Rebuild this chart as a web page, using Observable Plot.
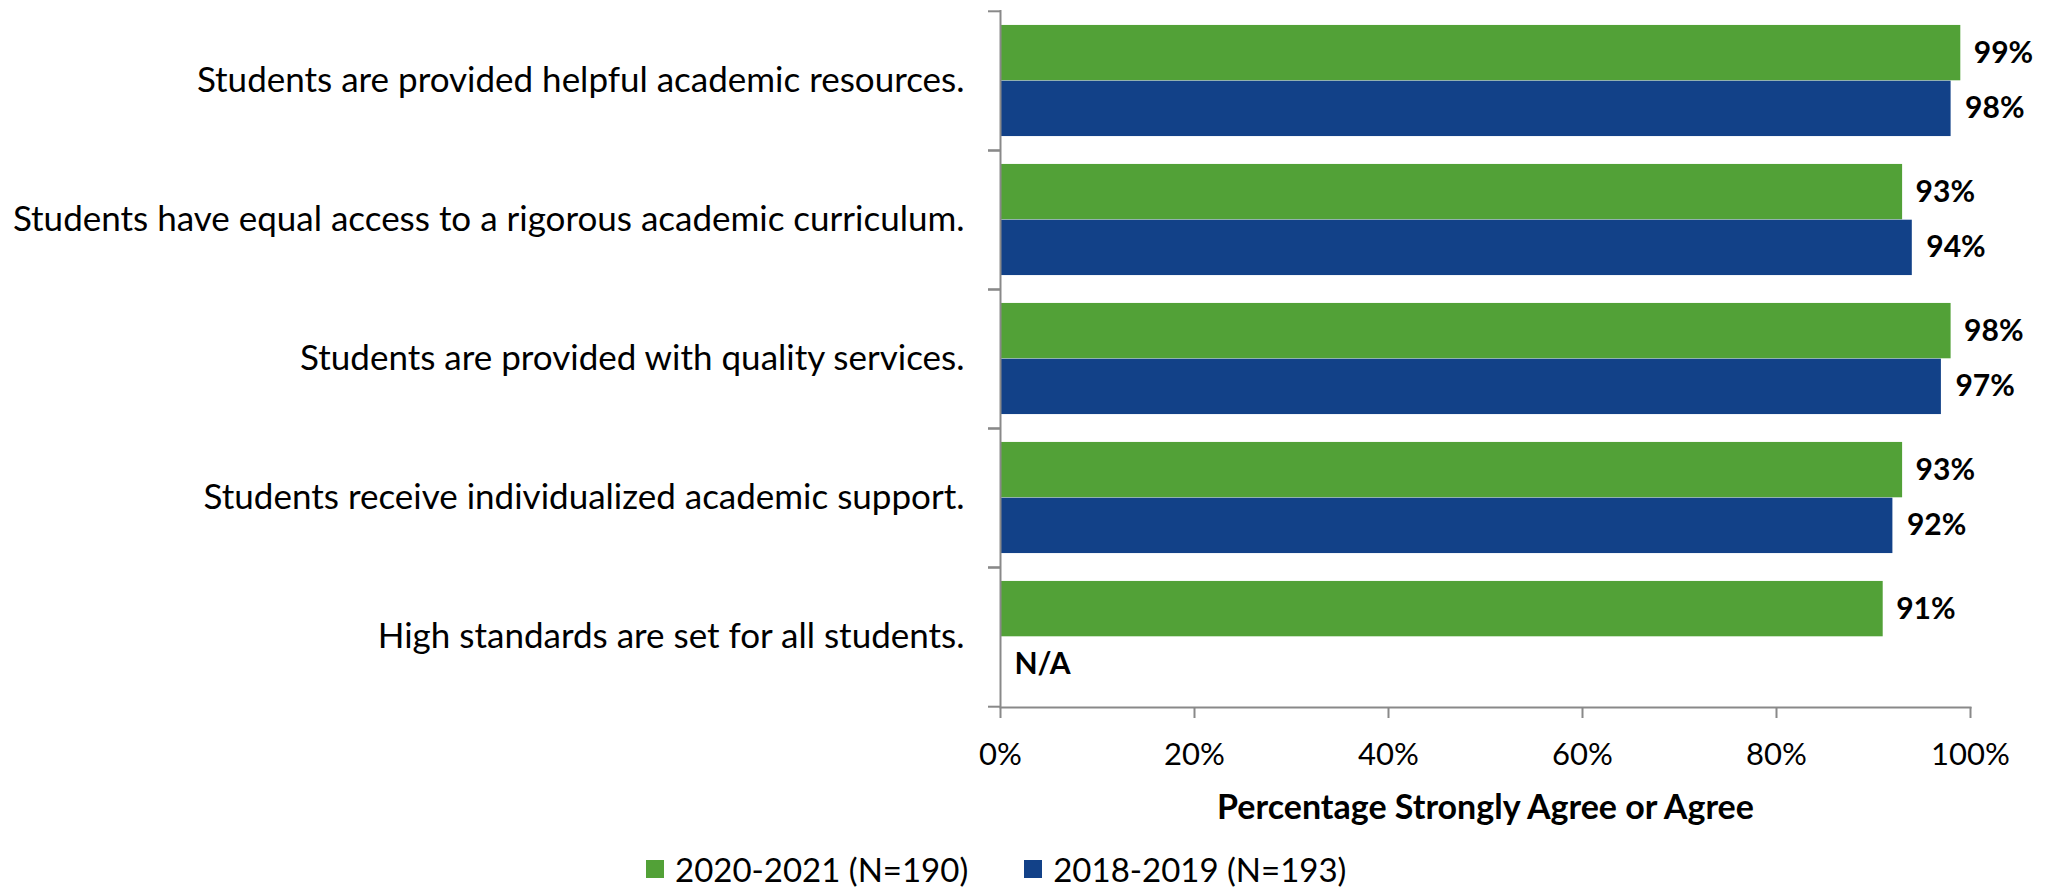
<!DOCTYPE html>
<html>
<head>
<meta charset="utf-8">
<script src="https://cdn.jsdelivr.net/npm/d3@7"></script>
<script src="https://cdn.jsdelivr.net/npm/@observablehq/plot@0.6"></script>
<style>
  html, body { margin: 0; padding: 0; background: #fff; }
  body { width: 2054px; height: 889px; overflow: hidden; font-family: Lato, sans-serif; }
  #legend { display: flex; align-items: center; margin-left: 646px; margin-top: 4px; height: 49px; font-size: 33px; color: #000; }
  #legend .item { display: flex; align-items: center; margin-right: 56px; }
  #legend .sw { width: 18px; height: 18px; margin-right: 11px; }
</style>
</head>
<body>
<div id="chart"></div>
<div id="legend"></div>
<script>
const categories = [
  "Students are provided helpful academic resources.",
  "Students have equal access to a rigorous academic curriculum.",
  "Students are provided with quality services.",
  "Students receive individualized academic support.",
  "High standards are set for all students."
];
const seriesNames = ["2020-2021 (N=190)", "2018-2019 (N=193)"];
const values2021 = [99, 93, 98, 93, 91];
const values2019 = [98, 94, 97, 92, null];
const xTicks = [0, 20, 40, 60, 80, 100];
const xTitle = "Percentage Strongly Agree or Agree";
const colors = ["#52A137", "#124188"];

const W = 2054, H = 840, mTop = 10, mBottom = 133, mLeft = 1000, mRight = 84;
const bw = (H - mTop - mBottom) / categories.length;
const outerGap = bw * 0.1;
const half = bw / 2;
const labelShift = (half - outerGap) / 2;

const rows2021 = categories.map((c, i) => ({category: c, value: values2021[i]}));
const rows2019 = categories.map((c, i) => ({category: c, value: values2019[i]}));
const fmt = d => d.value == null ? "N/A" : d.value + "%";
const axisColor = "#898989";

const plot = Plot.plot({
  width: W, height: H,
  marginTop: mTop, marginBottom: mBottom, marginLeft: mLeft, marginRight: mRight,
  style: {fontFamily: "Lato, sans-serif", color: "#000", background: "#fff"},
  x: {domain: [0, 100], axis: null},
  y: {domain: categories, padding: 0, axis: null},
  marks: [
    Plot.barX(rows2021.filter(d => d.value != null), {x: "value", y: "category", fill: colors[0], insetTop: outerGap, insetBottom: half}),
    Plot.barX(rows2019.filter(d => d.value != null), {x: "value", y: "category", fill: colors[1], insetTop: half, insetBottom: outerGap}),
    Plot.text(rows2021, {x: d => d.value ?? 0, y: "category", text: fmt, dx: 13, dy: -labelShift, textAnchor: "start", fontSize: 30, fontWeight: "bold", fill: "#000"}),
    Plot.text(rows2019, {x: d => d.value ?? 0, y: "category", text: fmt, dx: 14, dy: labelShift, textAnchor: "start", fontSize: 30, fontWeight: "bold", fill: "#000"}),
    // left axis line & boundary ticks
    Plot.ruleX([0], {stroke: axisColor, strokeWidth: 2}),
    Plot.axisY({tickSize: 12, tickFormat: () => "", dy: -half, stroke: axisColor, strokeWidth: 2, strokeOpacity: 1, label: null}),
    Plot.axisY({tickSize: 12, tickFormat: () => "", dy: half, stroke: axisColor, strokeWidth: 2, strokeOpacity: 1, label: null}),
    Plot.axisY({tickSize: 0, tickPadding: 36, fontSize: 35, fill: "#000", label: null}),
    // bottom axis
    Plot.frame({anchor: "bottom", stroke: axisColor, strokeWidth: 2}),
    Plot.axisX({ticks: xTicks, tickFormat: d => d + "%", tickSize: 11, tickPadding: 24, fontSize: 31, stroke: axisColor, strokeWidth: 2, strokeOpacity: 1, fill: "#000", label: null}),
    Plot.text([xTitle], {frameAnchor: "bottom", dy: 111, fontSize: 34, fontWeight: "bold", fill: "#000"})
  ]
});
document.getElementById("chart").appendChild(plot);

const legend = document.getElementById("legend");
seriesNames.forEach((name, i) => {
  const item = document.createElement("div");
  item.className = "item";
  const sw = document.createElement("span");
  sw.className = "sw";
  sw.style.background = colors[i];
  const label = document.createElement("span");
  label.textContent = name;
  item.appendChild(sw); item.appendChild(label);
  legend.appendChild(item);
});
</script>
</body>
</html>
